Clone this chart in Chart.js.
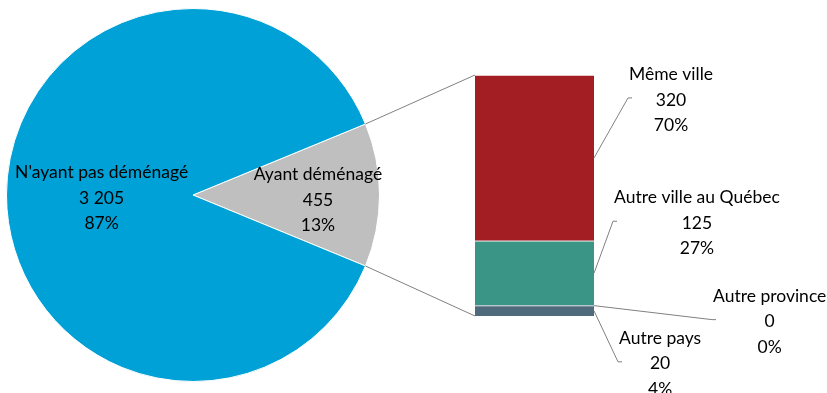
<!DOCTYPE html>
<html>
<head>
<meta charset="utf-8">
<script src="https://cdn.jsdelivr.net/npm/chart.js@4.4.0/dist/chart.umd.min.js"></script>
<style>
html,body{margin:0;padding:0;background:#fff;}
#wrap{position:relative;width:827px;height:393px;overflow:hidden;}
.box{position:absolute;}
#over{position:absolute;left:0;top:0;pointer-events:none;}
</style>
</head>
<body>
<div id="wrap">
  <div class="box" style="left:6px;top:8px;width:374px;height:374px"><canvas id="pie" width="374" height="374"></canvas></div>
  <div class="box" style="left:475px;top:75px;width:119px;height:241px"><canvas id="bar" width="119" height="241"></canvas></div>
  <canvas id="over" width="827" height="393"></canvas>
</div>
<script>
/* -------------------- Data -------------------- */
const pieLabels = ["Ayant déménagé", "N'ayant pas déménagé"];
const pieValues = [455, 3205];
const piePct = ["13%", "87%"];

const barLabels = ["Autre pays", "Autre province", "Autre ville au Québec", "Même ville"];
const barValues = [20, 0, 125, 320];
const barPct = ["4%", "0%", "27%", "70%"];

/* -------------------- Styles -------------------- */
const pieColors = ['#BFBFBF', '#00A1D6'];
const barColors = ['#4F6B7B', '#4F6B7B', '#3A9587', '#A21E22'];
const FONT = '17.5px Lato';
const LINE_H = 25.5;
const pieLabelDist = [0.67, 0.49];           // fraction of radius
const pieLabelDy = [5, 3];
const leaderOffsets = [[24,51],[118,14],[19,-52],[34,-60]]; // elbow offset from bar edge

function fmtNum(v){ return String(v).replace(/\B(?=(\d{3})+(?!\d))/g,' '); }

/* -------------------- Pie -------------------- */
const pieTotal = pieValues.reduce((a,b)=>a+b,0);
const grayDeg = pieValues[0]/pieTotal*360;

const pieChart = new Chart(document.getElementById('pie'), {
  type:'pie',
  data:{ labels:pieLabels, datasets:[{ data:pieValues, backgroundColor:pieColors, borderColor:'#fff', borderWidth:1 }] },
  options:{
    responsive:false, animation:false, rotation: 90 - grayDeg/2,
    layout:{padding:0},
    plugins:{ legend:{display:false}, tooltip:{enabled:false} }
  }
});

/* -------------------- Bar -------------------- */
const barTotal = barValues.reduce((a,b)=>a+b,0);
const barChart = new Chart(document.getElementById('bar'), {
  type:'bar',
  data:{
    labels:[''],
    datasets: barLabels.map((l,i)=>({
      label:l, data:[barValues[i]], backgroundColor:barColors[i],
      borderColor:'#fff', borderWidth:{top:1}, borderSkipped:false,
      barPercentage:1, categoryPercentage:1
    }))
  },
  options:{
    responsive:false, animation:false,
    layout:{padding:0},
    scales:{
      x:{stacked:true, display:false},
      y:{stacked:true, display:false, min:0, max:barTotal}
    },
    plugins:{ legend:{display:false}, tooltip:{enabled:false} }
  }
});

/* -------------------- Overlay (connectors + labels) -------------------- */
function drawBlock(ctx, lines, left, cy, centerX){
  ctx.font = FONT;
  const w = Math.max(...lines.map(t=>ctx.measureText(t).width));
  const x = centerX!==undefined ? centerX : left + w/2;
  const y0 = cy - (lines.length-1)*LINE_H/2;
  ctx.fillStyle = '#000';
  ctx.textAlign = 'center';
  ctx.textBaseline = 'middle';
  lines.forEach((t,i)=> ctx.fillText(t, x, y0 + i*LINE_H));
}

function drawOverlay(){
  const ctx = document.getElementById('over').getContext('2d');
  const pOff = {x:6, y:8}, bOff = {x:475, y:75};

  // pie geometry
  const arcs = pieChart.getDatasetMeta(0).data;
  const g = arcs[0];
  const cx = g.x + pOff.x, cy = g.y + pOff.y, r = g.outerRadius;

  // bar geometry
  const metas = barLabels.map((_,i)=>barChart.getDatasetMeta(i).data[0]);
  const top = Math.min(...metas.map(m=>m.y)) + bOff.y;
  const bottom = metas[0].base + bOff.y;
  const left = metas[0].x - metas[0].width/2 + bOff.x;
  const right = metas[0].x + metas[0].width/2 + bOff.x;

  ctx.strokeStyle = '#808080';
  ctx.lineWidth = 1;
  ctx.beginPath();
  ctx.moveTo(cx + r*Math.cos(g.startAngle), cy + r*Math.sin(g.startAngle));
  ctx.lineTo(left, top);
  ctx.moveTo(cx + r*Math.cos(g.endAngle), cy + r*Math.sin(g.endAngle));
  ctx.lineTo(left, bottom);
  ctx.stroke();

  // pie labels
  arcs.forEach((a,i)=>{
    const mid = (a.startAngle + a.endAngle)/2;
    const px = cx + r*pieLabelDist[i]*Math.cos(mid);
    const py = cy + r*pieLabelDist[i]*Math.sin(mid) + pieLabelDy[i];
    drawBlock(ctx, [pieLabels[i], fmtNum(pieValues[i]), piePct[i]], 0, py, px);
  });

  // bar leader lines + labels
  metas.forEach((m,i)=>{
    const ay = (m.y + m.base)/2 + bOff.y;
    const ex = right + leaderOffsets[i][0], ey = ay + leaderOffsets[i][1];
    ctx.strokeStyle = '#808080';
    ctx.beginPath();
    ctx.moveTo(right, ay);
    ctx.lineTo(ex, ey);
    ctx.lineTo(ex+4, ey);
    ctx.stroke();
    drawBlock(ctx, [barLabels[i], fmtNum(barValues[i]), barPct[i]], ex+1, ey+2);
  });
}
drawOverlay();
</script>
</body>
</html>
